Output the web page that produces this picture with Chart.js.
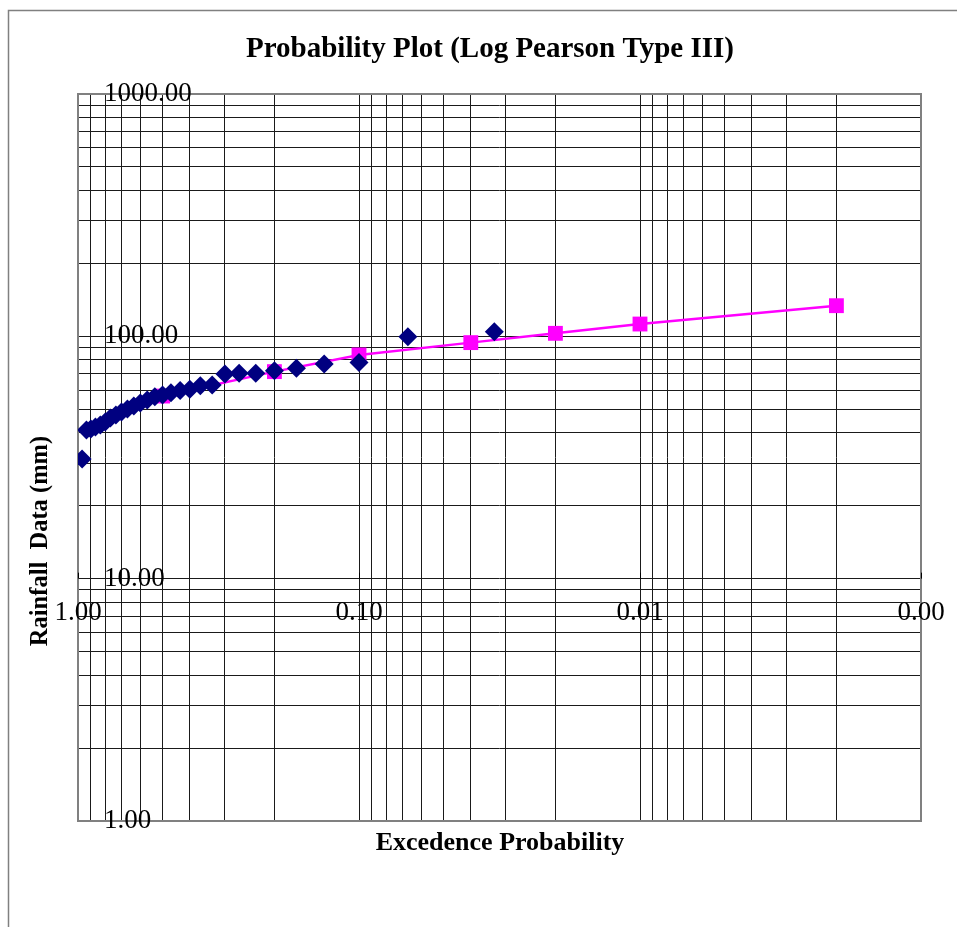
<!DOCTYPE html>
<html lang="en">
<head>
<meta charset="UTF-8">
<title>Probability Plot (Log Pearson Type III)</title>
<script src="https://cdn.jsdelivr.net/npm/chart.js@4.4.0/dist/chart.umd.min.js"></script>
<style>
  html, body { margin: 0; padding: 0; background: #fff; }
  canvas { display: block; }
</style>
</head>
<body>
<canvas id="probPlot" width="957" height="927"></canvas>
<script>
// Ranked annual maximum rainfall with Weibull plotting positions m/(n+1)
var obsProb = [0.033, 0.067, 0.100, 0.133, 0.167, 0.200, 0.233, 0.267, 0.300, 0.333,
               0.367, 0.400, 0.433, 0.467, 0.500, 0.533, 0.567, 0.600, 0.633, 0.667,
               0.700, 0.733, 0.767, 0.800, 0.833, 0.867, 0.900, 0.933, 0.967];
var obsRain = [104.5, 99.7, 77.9, 76.9, 73.8, 72.1, 70.4, 70.4, 69.9, 63.0,
               62.6, 60.5, 59.7, 58.5, 57.3, 56.3, 54.6, 53.1, 51.6, 50.1,
               48.7, 47.4, 46.0, 44.3, 43.1, 42.3, 41.5, 41.1, 31.2];

// Log Pearson III fitted quantiles (2, 5, 10, 25, 50, 100, 500 yr)
var fitProb = [0.5, 0.2, 0.1, 0.04, 0.02, 0.01, 0.002];
var fitRain = [56.7, 71.5, 83.8, 94.2, 102.9, 112.4, 133.8];

// labelled axis values
var xTickLabels = [1, 0.1, 0.01, 0.001];
var yTickLabels = [1000, 100, 10, 1];

var SERIF = '"Liberation Serif", "Times New Roman", serif';

// gridlines at 1..9 x 10^n inside [lo, hi]
function logGrid(lo, hi) {
  var out = [];
  for (var e = Math.round(Math.log10(lo)); e < Math.round(Math.log10(hi)); e++) {
    for (var k = 1; k < 10; k++) out.push({ value: k * Math.pow(10, e) });
  }
  out.push({ value: hi });
  return out;
}

function toPoints(xs, ys) {
  return xs.map(function (x, i) { return { x: x, y: ys[i] }; });
}

var decorations = {
  id: 'decorations',
  beforeDraw: function (chart) {
    var ctx = chart.ctx;
    ctx.save();
    ctx.fillStyle = '#fff';
    ctx.fillRect(0, 0, chart.width, chart.height);
    // outer chart frame
    ctx.strokeStyle = '#808080';
    ctx.lineWidth = 1.5;
    ctx.strokeRect(8.5, 10.5, chart.width + 40, chart.height + 40);
    ctx.restore();
  },
  beforeDatasetsDraw: function (chart) {
    var ctx = chart.ctx, a = chart.chartArea;
    var xs = chart.scales.x, ys = chart.scales.y;
    ctx.save();
    // plot area border
    ctx.strokeStyle = '#808080';
    ctx.lineWidth = 2;
    ctx.strokeRect(a.left, a.top, a.right - a.left, a.bottom - a.top);

    // x axis crosses at y = 10
    var yCross = ys.getPixelForValue(10);
    ctx.strokeStyle = '#000';
    ctx.lineWidth = 1;
    xTickLabels.forEach(function (v) {
      var px = Math.round(xs.getPixelForValue(v)) + 0.5;
      ctx.beginPath();
      ctx.moveTo(px, yCross - 6);
      ctx.lineTo(px, yCross);
      ctx.stroke();
    });

    ctx.fillStyle = '#000';
    ctx.font = '27px ' + SERIF;
    ctx.textBaseline = 'middle';
    ctx.textAlign = 'center';
    xTickLabels.forEach(function (v) {
      ctx.fillText(v.toFixed(2), xs.getPixelForValue(v), yCross + 34);
    });
    ctx.textAlign = 'left';
    yTickLabels.forEach(function (v) {
      ctx.fillText(v.toFixed(2), a.left + 26, ys.getPixelForValue(v));
    });

    // titles
    ctx.textAlign = 'center';
    ctx.font = 'bold 29px ' + SERIF;
    ctx.fillText('Probability Plot (Log Pearson Type III)', 490, 50);
    ctx.font = 'bold 26px ' + SERIF;
    ctx.fillText('Excedence Probability', 500, 843);
    ctx.translate(41, 541);
    ctx.rotate(-Math.PI / 2);
    ctx.font = 'bold 24.5px ' + SERIF;
    ctx.fillText('Rainfall  Data (mm)', 0, 0);
    ctx.restore();
  }
};

new Chart(document.getElementById('probPlot'), {
  type: 'scatter',
  data: {
    datasets: [
      {
        label: 'Observed',
        data: toPoints(obsProb, obsRain),
        showLine: false,
        pointStyle: 'rectRot',
        pointRadius: 9.5,
        pointBorderWidth: 0,
        backgroundColor: '#000080',
        borderColor: '#000080',
        order: 0
      },
      {
        label: 'Log Pearson III',
        data: toPoints(fitProb, fitRain),
        showLine: true,
        borderColor: '#FF00FF',
        borderWidth: 2.5,
        pointStyle: 'rect',
        pointRadius: 10.5,
        pointBorderWidth: 0,
        backgroundColor: '#FF00FF',
        order: 1
      }
    ]
  },
  options: {
    responsive: false,
    animation: false,
    events: [],
    layout: { padding: { left: 78, top: 94, right: 36, bottom: 106 } },
    plugins: { legend: { display: false }, tooltip: { enabled: false }, title: { display: false } },
    scales: {
      x: {
        type: 'logarithmic',
        reverse: true,
        min: 0.001,
        max: 1,
        afterBuildTicks: function (s) { s.ticks = logGrid(0.001, 1); },
        ticks: { display: false },
        border: { display: false },
        grid: { color: '#1a1a1a', lineWidth: 1, drawTicks: false }
      },
      y: {
        type: 'logarithmic',
        min: 1,
        max: 1000,
        afterBuildTicks: function (s) { s.ticks = logGrid(1, 1000); },
        ticks: { display: false },
        border: { display: false },
        grid: { color: '#1a1a1a', lineWidth: 1, drawTicks: false }
      }
    }
  },
  plugins: [decorations]
});
</script>
</body>
</html>
